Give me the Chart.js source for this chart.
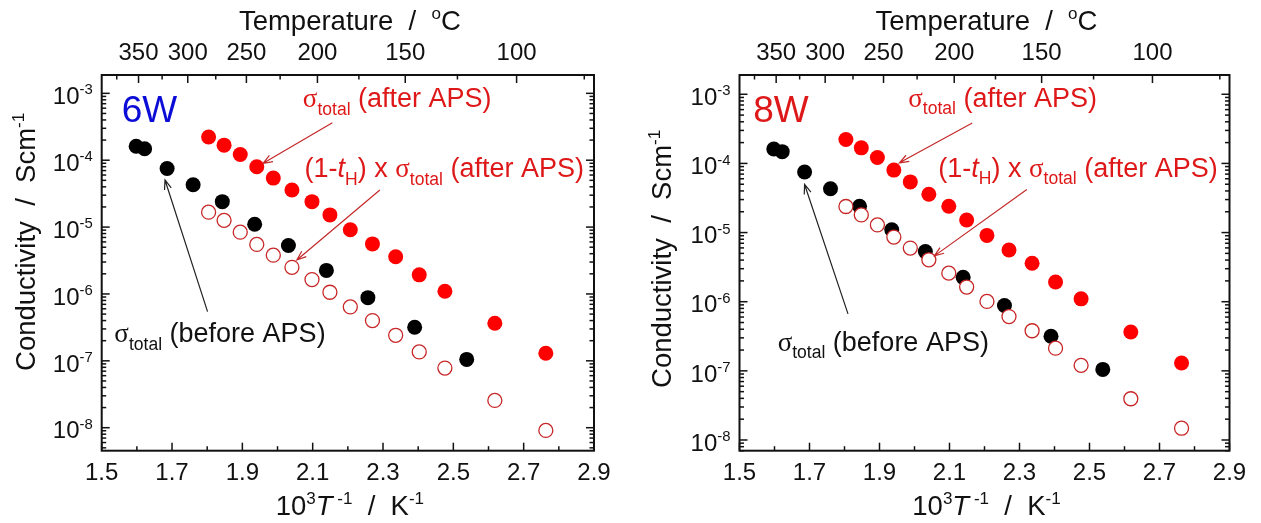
<!DOCTYPE html>
<html>
<head>
<meta charset="utf-8">
<title>Arrhenius plots 6W / 8W</title>
<script src="https://cdn.jsdelivr.net/npm/chart.js@4.4.1/dist/chart.umd.min.js"></script>
<style>
  html, body { margin: 0; padding: 0; background: #fff; }
  #wrap { position: relative; width: 1261px; height: 523px; overflow: hidden; }
  .panel { position: absolute; top: 0; height: 523px; }
</style>
</head>
<body>
<div id="wrap">
  <div class="panel" style="left:0;width:630px"><canvas id="chart6W"></canvas></div>
  <div class="panel" style="left:630px;width:631px"><canvas id="chart8W"></canvas></div>
</div>
<script>
// ---------- axis tick labels ----------
const invTTickLabels = ['1.5', '1.7', '1.9', '2.1', '2.3', '2.5', '2.7', '2.9'];
const tempTickLabels = [350, 300, 250, 200, 150, 100];          // degC, top axis
const sigmaTickExponents = [-8, -7, -6, -5, -4, -3];             // decades, left axis

// ---------- measured data ----------
// total conductivity before APS treatment (1000/T in K^-1, S cm^-1)
const invTBeforeAPS = [1.598, 1.622, 1.686, 1.760, 1.843, 1.935, 2.031, 2.139, 2.257, 2.390, 2.538];
const sigmaBeforeAPS = [1.62e-4, 1.48e-4, 7.5e-5, 4.3e-5, 2.4e-5, 1.1e-5, 5.3e-6, 2.25e-6, 8.8e-7, 3.17e-7, 1.05e-7];

// total conductivity after APS treatment
const invTAfterAPS = [1.804, 1.848, 1.894, 1.941, 1.988, 2.041, 2.098, 2.149, 2.207, 2.270, 2.336, 2.403, 2.476, 2.618, 2.763];
const sigmaAfterAPS = [2.22e-4, 1.68e-4, 1.22e-4, 8.0e-5, 5.4e-5, 3.58e-5, 2.4e-5, 1.52e-5, 9.1e-6, 5.6e-6, 3.6e-6, 1.93e-6, 1.1e-6, 3.65e-7, 1.3e-7];

// (1 - t_H) x sigma_total after APS
const sigmaNonProton6W = [1.67e-5, 1.26e-5, 8.4e-6, 5.5e-6, 3.8e-6, 2.5e-6, 1.64e-6, 1.06e-6, 6.4e-7, 4.0e-7, 2.41e-7, 1.36e-7, 7.8e-8, 2.56e-8, 9.1e-9];
const sigmaNonProton8W = [2.38e-5, 1.80e-5, 1.29e-5, 8.6e-6, 5.96e-6, 4.04e-6, 2.59e-6, 1.63e-6, 1.01e-6, 6.1e-7, 3.8e-7, 2.13e-7, 1.2e-7, 3.95e-8, 1.48e-8];

// ---------- styling ----------
const SANS = '"Liberation Sans", Arial, Helvetica, sans-serif';
const GREEK = '"Liberation Serif", "DejaVu Serif", serif';
const INK = '#111111';
const TEXT_RED = 'rgb(222,24,24)';
const ARROW_RED = 'rgb(196,40,40)';
const OPEN_RED = 'rgb(200,38,38)';
const FILL_RED = '#ff0000';
const BLUE = 'rgb(12,12,215)';
const TICK_FONT = 24;
const TITLE_FONT = 27.5;
const NOTE_FONT = 27;

const toXY = (xs, ys) => xs.map((x, i) => ({ x: x, y: ys[i] }));

// ---------- rich text (super/subscripts, italics, greek) ----------
function runFont(run, size) {
  const s = run.sup ? size * 0.62 : run.sub ? size * 0.65 : size;
  return (run.it ? 'italic ' : '') + s.toFixed(2) + 'px ' + (run.gr ? GREEK : SANS);
}
function richWidth(ctx, runs, size) {
  let w = 0;
  runs.forEach(r => { ctx.font = runFont(r, size); w += ctx.measureText(r.t).width; });
  return w;
}
function drawRich(ctx, runs, x, y, size, color, align) {
  const w = richWidth(ctx, runs, size);
  let cx = align === 'center' ? x - w / 2 : align === 'right' ? x - w : x;
  ctx.fillStyle = color;
  ctx.textAlign = 'left';
  ctx.textBaseline = 'alphabetic';
  runs.forEach(r => {
    ctx.font = runFont(r, size);
    const dy = r.sup ? -size * 0.40 : r.sub ? size * 0.28 : 0;
    ctx.fillText(r.t, cx, y + dy);
    cx += ctx.measureText(r.t).width;
  });
}
function drawArrow(ctx, x1, y1, x2, y2, color) {
  const a = Math.atan2(y2 - y1, x2 - x1);
  const len = 10, spread = 0.36;
  ctx.strokeStyle = color;
  ctx.lineWidth = 1.2;
  ctx.beginPath();
  ctx.moveTo(x1, y1);
  ctx.lineTo(x2, y2);
  ctx.moveTo(x2 - len * Math.cos(a - spread), y2 - len * Math.sin(a - spread));
  ctx.lineTo(x2, y2);
  ctx.lineTo(x2 - len * Math.cos(a + spread), y2 - len * Math.sin(a + spread));
  ctx.stroke();
}

const LABEL_AFTER = [{ t: '\u03C3', gr: true }, { t: 'total', sub: true }, { t: ' (after APS)' }];
const LABEL_NONPROTON = [{ t: '(1-' }, { t: 't', it: true }, { t: 'H', sub: true }, { t: ') x ' },
  { t: '\u03C3', gr: true }, { t: 'total', sub: true }, { t: ' (after APS)' }];
const LABEL_BEFORE = [{ t: '\u03C3', gr: true }, { t: 'total', sub: true }, { t: ' (before APS)' }];
const TITLE_TOP = [{ t: 'Temperature  /  ' }, { t: 'o', sup: true }, { t: 'C' }];
const TITLE_BOTTOM = [{ t: '10' }, { t: '3', sup: true }, { t: 'T', it: true }, { t: ' -1', sup: true },
  { t: '  /  K' }, { t: '-1', sup: true }];
const TITLE_LEFT = [{ t: 'Conductivity  /  Scm' }, { t: '-1', sup: true }];

// ---------- frame, ticks, titles and notes ----------
const arrheniusFrame = {
  id: 'arrheniusFrame',
  beforeDatasetsDraw(chart) {
    const { ctx, chartArea: a } = chart;
    const sx = chart.scales.x, st = chart.scales.xTop, sy = chart.scales.y;
    const MAJ = 8, MIN = 4.5;
    ctx.save();
    ctx.strokeStyle = INK;
    ctx.lineWidth = 1.5;
    const seg = (x1, y1, x2, y2) => { ctx.beginPath(); ctx.moveTo(x1, y1); ctx.lineTo(x2, y2); ctx.stroke(); };

    // bottom axis: labelled majors and midway minors
    invTTickLabels.forEach((lab, i) => {
      const v = parseFloat(lab);
      seg(sx.getPixelForValue(v), a.bottom, sx.getPixelForValue(v), a.bottom - MAJ);
      if (i < invTTickLabels.length - 1) {
        const m = sx.getPixelForValue(v + 0.1);
        seg(m, a.bottom, m, a.bottom - MIN);
      }
    });
    // top axis: temperature
    const tPix = T => st.getPixelForValue(1000 / (T + 273.15));
    tempTickLabels.forEach(T => seg(tPix(T), a.top, tPix(T), a.top + MAJ));
    [375, 325, 275, 225, 175, 125, 75].forEach(T => {
      const p = tPix(T);
      if (p > a.left && p < a.right) seg(p, a.top, p, a.top + MIN);
    });
    // left/right: decades and 2..9 minors
    for (let d = -9; d <= -3; d++) {
      for (let k = 1; k <= 9; k++) {
        const v = k * Math.pow(10, d);
        if (v < sy.min || v > sy.max) continue;
        const p = sy.getPixelForValue(v);
        const L = k === 1 ? MAJ : MIN;
        seg(a.left, p, a.left + L, p);
        seg(a.right, p, a.right - L, p);
      }
    }
    // frame
    ctx.lineWidth = 2;
    ctx.strokeRect(a.left, a.top, a.right - a.left, a.bottom - a.top);
    ctx.restore();
  },
  afterDatasetsDraw(chart, args, opts) {
    const { ctx, chartArea: a } = chart;
    const sx = chart.scales.x, st = chart.scales.xTop, sy = chart.scales.y;
    const P = pt => [sx.getPixelForValue(pt[0]), sy.getPixelForValue(pt[1])];
    ctx.save();

    // tick labels
    invTTickLabels.forEach(lab => {
      drawRich(ctx, [{ t: lab }], sx.getPixelForValue(parseFloat(lab)), a.bottom + 29.3, TICK_FONT, INK, 'center');
    });
    tempTickLabels.forEach(T => {
      drawRich(ctx, [{ t: String(T) }], st.getPixelForValue(1000 / (T + 273.15)), a.top - 15, TICK_FONT, INK, 'center');
    });
    sigmaTickExponents.forEach(e => {
      const p = sy.getPixelForValue(Math.pow(10, e));
      drawRich(ctx, [{ t: '10' }, { t: String(e), sup: true }], a.left - 9, p + 10.7, TICK_FONT, INK, 'right');
    });

    // axis titles
    const cx = (a.left + a.right) / 2, cy = (a.top + a.bottom) / 2;
    drawRich(ctx, TITLE_TOP, cx + 2, a.top - 45, TITLE_FONT, INK, 'center');
    drawRich(ctx, TITLE_BOTTOM, cx + 2, a.bottom + 64, TITLE_FONT, INK, 'center');
    ctx.save();
    ctx.translate(a.left - opts.yTitleGap, cy + opts.yTitleShift);
    ctx.rotate(-Math.PI / 2);
    drawRich(ctx, TITLE_LEFT, 0, 0, TITLE_FONT, INK, 'center');
    ctx.restore();

    // panel name
    const n = opts.notes;
    const pn = P(n.panel);
    drawRich(ctx, [{ t: opts.panelName }], pn[0], pn[1], 37, opts.panelColor, 'left');

    // series notes
    let q = P(n.after);  drawRich(ctx, LABEL_AFTER, q[0], q[1], NOTE_FONT, TEXT_RED, 'left');
    q = P(n.nonProton);  drawRich(ctx, LABEL_NONPROTON, q[0], q[1], NOTE_FONT, TEXT_RED, 'left');
    q = P(n.before);     drawRich(ctx, LABEL_BEFORE, q[0], q[1], NOTE_FONT, INK, 'left');

    // arrows
    const arr = (seg, col) => { const s = P(seg[0]), e = P(seg[1]); drawArrow(ctx, s[0], s[1], e[0], e[1], col); };
    arr(n.afterArrow, ARROW_RED);
    arr(n.nonProtonArrow, ARROW_RED);
    arr(n.beforeArrow, '#222');
    ctx.restore();
  }
};

function buildPanel(canvasId, cfg) {
  return new Chart(document.getElementById(canvasId), {
    type: 'scatter',
    data: {
      datasets: [
        { // (1 - tH) x sigma_total, open circles drawn on top
          data: toXY(invTAfterAPS, cfg.nonProton),
          pointStyle: 'circle', pointRadius: 7, borderWidth: 1.3,
          borderColor: OPEN_RED, backgroundColor: '#ffffff', order: 0
        },
        { // sigma_total after APS
          data: toXY(invTAfterAPS, sigmaAfterAPS),
          pointStyle: 'circle', pointRadius: 7.5, borderWidth: 0,
          borderColor: FILL_RED, backgroundColor: FILL_RED, order: 1
        },
        { // sigma_total before APS
          data: toXY(invTBeforeAPS, sigmaBeforeAPS),
          pointStyle: 'circle', pointRadius: 7.5, borderWidth: 0,
          borderColor: '#000', backgroundColor: '#000', order: 2
        }
      ]
    },
    options: {
      responsive: true,
      maintainAspectRatio: false,
      animation: false,
      events: [],
      layout: { padding: cfg.padding },
      plugins: {
        legend: { display: false },
        tooltip: { enabled: false },
        arrheniusFrame: {
          panelName: cfg.name, panelColor: cfg.color, notes: cfg.notes,
          yTitleGap: cfg.yTitleGap, yTitleShift: cfg.yTitleShift
        }
      },
      scales: {
        x: { type: 'linear', position: 'bottom', min: 1.5, max: 2.9, display: false },
        xTop: { type: 'linear', position: 'top', min: 1.5, max: 2.9, display: false },
        y: { type: 'logarithmic', min: cfg.yMin, max: cfg.yMax, display: false }
      }
    },
    plugins: [arrheniusFrame]
  });
}

buildPanel('chart6W', {
  name: '6W', color: BLUE,
  nonProton: sigmaNonProton6W,
  yMin: 4.53e-9, yMax: 1.88e-3,
  padding: { left: 101.7, right: 36, top: 75, bottom: 72.3 },
  yTitleGap: 66.5, yTitleShift: -21,
  notes: {
    panel: [1.557, 3.76e-4],
    after: [2.072, 6.24e-4],
    nonProton: [2.077, 5.6e-5],
    before: [1.536, 1.91e-7],
    afterArrow: [[2.156, 3.64e-4], [1.959, 9.0e-5]],
    nonProtonArrow: [[2.291, 3.59e-5], [2.055, 3.22e-6]],
    beforeArrow: [[1.801, 5.43e-7], [1.680, 5.06e-5]]
  }
});

buildPanel('chart8W', {
  name: '8W', color: TEXT_RED,
  nonProton: sigmaNonProton8W,
  yMin: 7.4e-9, yMax: 1.9e-3,
  padding: { left: 109.5, right: 31.5, top: 75, bottom: 72.3 },
  yTitleGap: 69, yTitleShift: -4,
  notes: {
    panel: [1.539, 4.03e-4],
    after: [1.982, 6.56e-4],
    nonProton: [2.068, 6.46e-5],
    before: [1.609, 1.96e-7],
    afterArrow: [[2.165, 3.83e-4], [1.957, 1.02e-4]],
    nonProtonArrow: [[2.321, 4.2e-5], [2.057, 4.6e-6]],
    beforeArrow: [[1.810, 6.67e-7], [1.686, 4.96e-5]]
  }
});
</script>
</body>
</html>
